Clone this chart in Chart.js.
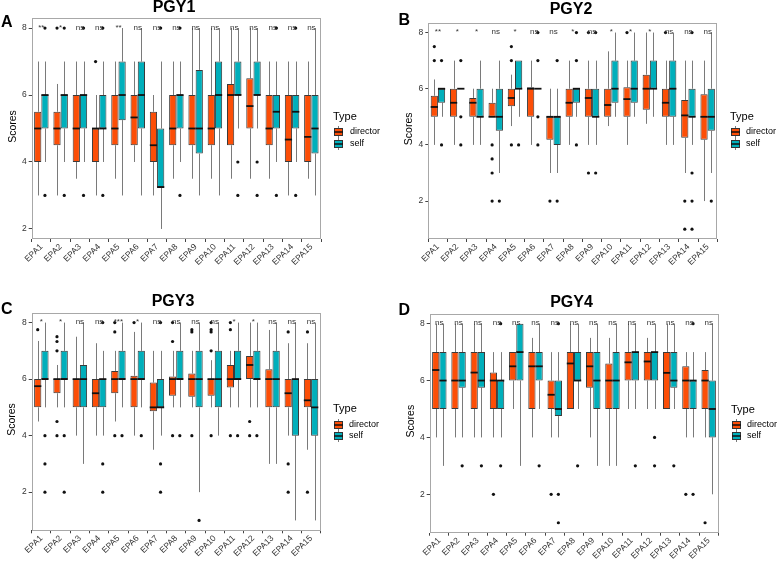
<!DOCTYPE html>
<html>
<head>
<meta charset="utf-8">
<script src="https://cdn.jsdelivr.net/npm/chart.js@4.4.0/dist/chart.umd.min.js"></script>
<style>
  html, body { margin: 0; padding: 0; background: #fff; }
  #wrap { position: relative; width: 778px; height: 564px; }
  .panel { position: absolute; width: 389px; height: 282px; }
</style>
</head>
<body>
<div id="wrap">
  <div class="panel" style="left:0;top:0"><canvas id="pgy1" width="389" height="282"></canvas></div>
  <div class="panel" style="left:389px;top:0"><canvas id="pgy2" width="389" height="282"></canvas></div>
  <div class="panel" style="left:0;top:282px"><canvas id="pgy3" width="389" height="282"></canvas></div>
  <div class="panel" style="left:389px;top:282px"><canvas id="pgy4" width="389" height="282"></canvas></div>
</div>
<script>
const epaLabels = ['EPA1','EPA2','EPA3','EPA4','EPA5','EPA6','EPA7','EPA8','EPA9','EPA10','EPA11','EPA12','EPA13','EPA14','EPA15'];
const typeNames = ['director', 'self'];
const yTicks = [2, 4, 6, 8];

// each box: [lower whisker, q1, median, q3, upper whisker]
const pgy1Director = [[3,4,5,5.5,7],[3,4.5,5,5.5,6.33],[3.5,4,5,6,7],[3,4,5,5,6],[3.5,4.5,5,6,7],[4,4.5,5.33,6,7],[3,4,4.5,5.5,6],[3.5,4.5,5,6,7],[3.5,4.5,5,6,8],[3.5,4.5,5,6,8],[3.5,4.5,6,6.33,8],[3.5,5,5.67,6.5,8],[3.5,4.5,5,6,7],[3,4,4.67,6,7],[3.5,4,4.75,6,7]];
const pgy1DirectorOut = [[],[8],[],[7],[],[],[],[],[],[],[],[],[],[],[]];
const pgy1Self = [[4,5,6,6,7],[4,5,6,6,7],[4,5,6,6,7],[4,5,5,6,7],[3,5.25,6,7,8],[3,5,6,7,8],[2,3.25,3.25,5,7],[4,5,6,6,7],[3,4.25,5,6.75,8],[3,5,6,7,8],[5,6,6,7,8],[5,6,6,7,8],[4,5,5.5,6,7],[4,5,5.5,6,7],[3,4.25,5,6,8]];
const pgy1SelfOut = [[8,3],[8,3],[8,3],[8,3],[],[],[8],[8,3],[],[],[4,3],[4,3],[8,3],[8,3],[]];
const pgy1Sig = ['**','*','ns','ns','**','ns','ns','ns','ns','ns','ns','ns','ns','ns','ns'];

const pgy2Director = [[4,5,5.35,5.75,6.33],[4,5,5.5,6,7],[4,5,5.5,5.67,6],[5,5,5,5.5,6],[4.67,5.38,5.67,6,6.5],[4,5,6,6.05,7],[3,4.18,5,5,6],[4,5,5.5,6,7],[4,5,5.67,6,7],[4.67,5,5.42,6,7.33],[4,5,5.63,6.05,7],[4.75,5.25,6,6.5,8],[4,5,5.5,6,7],[3,4.25,5.05,5.6,7],[2,4.18,5,5.8,7]];
const pgy2DirectorOut = [[7.5,7],[],[],[4,3.5,3,2],[7.5,7,4],[],[2],[],[8,3],[],[8],[],[8],[2,1],[]];
const pgy2Self = [[5,5.5,6,6,6],[6,6,6,6,6],[4,5,5,6,7],[3,4.5,5,6,7],[5,6,6,7,7],[6,6,6,6,6],[3,4,5,5,6],[5,5.5,6,6,6],[4,5,5,6,7],[5,5.5,6,7,8],[5,5.5,6,7,8],[5,6,6,7,8],[4,5,6,7,8],[4,5,5,6,7],[3,4.5,5,6,8]];
const pgy2SelfOut = [[7,4],[7,5,4],[],[2],[4],[8,7,5,4],[7,2],[8,7,4],[8,3],[],[],[],[],[8,3,2,1],[2]];
const pgy2Sig = ['**','*','*','ns','*','ns','ns','*','ns','*','*','*','ns','ns','ns'];

const pgy3Director = [[4.5,5,5.75,6,7.35],[5,5.5,6,6,6.5],[4,5,6,6,7.5],[4,5,5.5,6,7.27],[4.5,5.5,6,6.29,7],[4,5,6,6.12,7.67],[3.5,4.86,5,5.88,7],[5,5.41,6,6.09,7],[5,5.38,6,6.2,7],[5,5.41,6,6,6.67],[5,5.7,6,6.5,7],[5,6,6.5,6.82,8],[3,5,6,6.35,7.74],[4,5,5.5,6,7.27],[3.5,5,5.25,6,7.27]];
const pgy3DirectorOut = [[7.75],[7.5,7.33,7,4.5,4],[],[],[8,7.67,4],[8],[],[8,7.33,4],[7.75,7.67,4],[8,7.75,7.67,7,4],[8,7.75,4],[4.5,4],[],[7.67,3,2],[7.67,2]];
const pgy3Self = [[5,6,6,7,8],[5,6,6,7,8],[3,5,6,6.5,8],[4,5,6,6,7],[5,6,6,7,8],[5,6,6,7,8],[4,5,5,6,7],[5,6,6,7,8],[2,5,6,7,8],[4,5,6,7,8],[5,6,6,7,8],[5,6,6,7,8],[3,5,6,7,8],[1,4,6,6,8],[1,4,5,6,8]];
const pgy3SelfOut = [[4,3,2],[4,2],[],[8,3,2],[4],[4],[8,3,2],[4],[1],[],[4],[4],[],[],[]];
const pgy3Sig = ['*','*','ns','ns','***','*','ns','ns','ns','ns','*','*','ns','ns','ns'];

const pgy4Director = [[4,5,6.37,7,8],[4,5,6,7,8],[4,5,6.28,7,8],[4,5,6,6.28,7],[5,6,6.5,7,7],[4,5,6.5,7,7.5],[4,5,5.5,6,7],[5,5,6.6,7,8],[4,5.75,6.5,7,7.5],[3,5,6,6.6,7.5],[5,6,6.64,7,8],[5,6,6.67,7,7.5],[5,5,6.27,7,8],[4,5,6,6.5,7],[4,5,6,6.37,7]];
const pgy4DirectorOut = [[],[],[],[2],[],[],[2],[],[],[],[],[],[],[2],[1]];
const pgy4Self = [[3,5,6,7,8],[4,5.75,6,7,8],[4,5.75,6,7,8],[4,5,6,6,7],[3,6,7,8,8],[5,6,6.5,7,8],[4,4.75,5,6,7],[5,6,6,7,8],[3,5,6,7,8],[3,5,6,7,8],[5,6,7,7,8],[5,6,7,7,8],[5,5.75,6,7,8],[4,5,6,6,7],[2,4,5,6,8]];
const pgy4SelfOut = [[],[3],[3],[8,3],[],[3],[8,2,1],[3],[],[],[3],[4,3],[3],[8,2],[]];
const pgy4Sig = ['ns','ns','ns','ns','ns','ns','ns','ns','ns','ns','ns','ns','ns','ns','ns'];

const COLORS = { director: '#FC4E07', self: '#00AFBB' };
const FONT = '"Liberation Sans", Arial, sans-serif';

// 箱线图的须、中位数、离群点和标注
const boxPlugin = {
  id: 'boxExtras',
  beforeDatasetsDraw(chart) {
    const ctx = chart.ctx, y = chart.scales.y;
    ctx.save();
    ctx.strokeStyle = '#7a7a7a';
    ctx.lineWidth = 1;
    chart.data.datasets.forEach((ds, di) => {
      chart.getDatasetMeta(di).data.forEach((bar, i) => {
        const s = ds.stats[i];
        const x = Math.round(bar.x) + 0.5;
        ctx.beginPath();
        ctx.moveTo(x, y.getPixelForValue(s[4]));
        ctx.lineTo(x, y.getPixelForValue(s[3]));
        ctx.moveTo(x, y.getPixelForValue(s[1]));
        ctx.lineTo(x, y.getPixelForValue(s[0]));
        ctx.stroke();
      });
    });
    ctx.restore();
  },
  afterDatasetsDraw(chart, args, opts) {
    const ctx = chart.ctx, y = chart.scales.y, xs = chart.scales.x;
    ctx.save();
    chart.data.datasets.forEach((ds, di) => {
      chart.getDatasetMeta(di).data.forEach((bar, i) => {
        const s = ds.stats[i];
        const half = bar.width / 2;
        const my = y.getPixelForValue(s[2]);
        ctx.strokeStyle = '#111';
        ctx.lineWidth = 1.8;
        ctx.beginPath();
        ctx.moveTo(bar.x - half, my);
        ctx.lineTo(bar.x + half, my);
        ctx.stroke();
        ctx.fillStyle = '#111';
        ds.outliers[i].forEach(v => {
          ctx.beginPath();
          ctx.arc(bar.x, y.getPixelForValue(v), 1.6, 0, Math.PI * 2);
          ctx.fill();
        });
      });
    });
    // significance labels
    ctx.fillStyle = '#333';
    ctx.font = '8px ' + FONT;
    ctx.textAlign = 'center';
    ctx.textBaseline = 'alphabetic';
    opts.sig.forEach((t, i) => {
      ctx.fillText(t, xs.getPixelForValue(i), y.getPixelForValue(8) + 1.5);
    });
    ctx.restore();
  },
  afterDraw(chart, args, opts) {
    const ctx = chart.ctx, a = chart.chartArea;
    ctx.save();
    ctx.strokeStyle = '#a8a8a8';
    ctx.lineWidth = 1;
    ctx.strokeRect(Math.round(a.left) + 0.5, Math.round(a.top) + 0.5, Math.round(a.right - a.left) - 1, Math.round(a.bottom - a.top) - 1);

    ctx.fillStyle = '#000';
    ctx.textBaseline = 'middle';
    ctx.textAlign = 'center';
    ctx.font = 'bold 16px ' + FONT;
    ctx.fillText(opts.title, opts.titleX, opts.titleY);
    ctx.textAlign = 'left';
    ctx.fillText(opts.tag, opts.tagX, opts.tagY);

    // y axis title
    ctx.save();
    ctx.font = '10.5px ' + FONT;
    ctx.textAlign = 'center';
    ctx.translate(opts.axisX, (a.top + a.bottom) / 2 - 2);
    ctx.rotate(-Math.PI / 2);
    ctx.fillText('Scores', 0, 0);
    ctx.restore();

    // legend
    const lg = opts.legend;
    ctx.font = '11px ' + FONT;
    ctx.fillText('Type', lg.x, lg.titleY);
    ctx.font = '9px ' + FONT;
    typeNames.forEach((name, k) => {
      const cy = lg.itemY[k];
      const kx = lg.x + 1;
      ctx.strokeStyle = '#7a7a7a';
      ctx.lineWidth = 1;
      ctx.beginPath();
      ctx.moveTo(kx + 4.5, cy - 6);
      ctx.lineTo(kx + 4.5, cy + 6);
      ctx.stroke();
      ctx.fillStyle = COLORS[name];
      ctx.fillRect(kx, cy - 4, 9, 8);
      ctx.strokeStyle = '#333';
      ctx.strokeRect(kx + 0.5, cy - 3.5, 8, 7);
      ctx.strokeStyle = '#111';
      ctx.lineWidth = 1.5;
      ctx.beginPath();
      ctx.moveTo(kx, cy);
      ctx.lineTo(kx + 9, cy);
      ctx.stroke();
      ctx.fillStyle = '#000';
      ctx.fillText(name, lg.textX, cy);
    });
    ctx.restore();
  }
};

const makePanel = (id, dir, dirOut, self, selfOut, sig, cfg) => {
  const H = 282, W = 389;
  new Chart(document.getElementById(id), {
    type: 'bar',
    data: {
      labels: epaLabels,
      datasets: [
        { label: 'director', data: dir.map(b => [b[1], b[3]]), stats: dir, outliers: dirOut,
          backgroundColor: COLORS.director, borderColor: '#3a3a3a', borderWidth: 1, borderSkipped: false },
        { label: 'self', data: self.map(b => [b[1], b[3]]), stats: self, outliers: selfOut,
          backgroundColor: COLORS.self, borderColor: '#3a3a3a', borderWidth: 1, borderSkipped: false }
      ]
    },
    options: {
      responsive: false,
      animation: false,
      events: [],
      categoryPercentage: 0.75,
      barPercentage: 1,
      layout: { padding: { top: cfg.area.top, right: W - cfg.area.right, left: 0, bottom: 0 } },
      scales: {
        x: {
          grid: { display: true, drawOnChartArea: false, drawTicks: true, tickLength: 3, color: '#444' },
          border: { display: false },
          ticks: { autoSkip: false, maxRotation: 45, minRotation: 45, padding: 0,
                   color: '#333', font: { family: FONT, size: 8.5 } },
          afterFit: s => { s.height = H - cfg.area.bottom; }
        },
        y: {
          min: cfg.yMin, max: cfg.yMax,
          grid: { display: true, drawOnChartArea: false, drawTicks: true, tickLength: 3, color: '#444' },
          border: { display: false },
          ticks: { padding: 2, color: '#333', font: { family: FONT, size: 8.5 } },
          afterBuildTicks: s => { s.ticks = yTicks.map(v => ({ value: v })); },
          afterFit: s => { s.width = cfg.area.left; }
        }
      },
      plugins: {
        legend: { display: false },
        tooltip: { enabled: false },
        boxExtras: Object.assign({ sig: sig }, cfg.deco)
      }
    },
    plugins: [boxPlugin]
  });
};

makePanel('pgy1', pgy1Director, pgy1DirectorOut, pgy1Self, pgy1SelfOut, pgy1Sig, {
  area: { left: 31.7, top: 18, right: 321, bottom: 239 }, yMin: 1.7, yMax: 8.3,
  deco: { title: 'PGY1', titleX: 174, titleY: 8, tag: 'A', tagX: 1, tagY: 23, axisX: 13,
          legend: { x: 333, titleY: 117, itemY: [132, 144], textX: 350 } }
});
makePanel('pgy2', pgy2Director, pgy2DirectorOut, pgy2Self, pgy2SelfOut, pgy2Sig, {
  area: { left: 39.3, top: 22.7, right: 328.3, bottom: 239 }, yMin: 0.65, yMax: 8.35,
  deco: { title: 'PGY2', titleX: 182, titleY: 9.5, tag: 'B', tagX: 9.5, tagY: 21, axisX: 20,
          legend: { x: 341, titleY: 117, itemY: [132, 144], textX: 357 } }
});
makePanel('pgy3', pgy3Director, pgy3DirectorOut, pgy3Self, pgy3SelfOut, pgy3Sig, {
  area: { left: 31.7, top: 30.7, right: 320.7, bottom: 248.3 }, yMin: 0.65, yMax: 8.35,
  deco: { title: 'PGY3', titleX: 173, titleY: 19.5, tag: 'C', tagX: 1, tagY: 27.5, axisX: 12.5,
          legend: { x: 333, titleY: 127, itemY: [143, 154], textX: 349 } }
});
makePanel('pgy4', pgy4Director, pgy4DirectorOut, pgy4Self, pgy4SelfOut, pgy4Sig, {
  area: { left: 40.7, top: 31.7, right: 329.3, bottom: 250.7 }, yMin: 0.65, yMax: 8.35,
  deco: { title: 'PGY4', titleX: 182.5, titleY: 20.5, tag: 'D', tagX: 9.5, tagY: 29, axisX: 22,
          legend: { x: 342, titleY: 128, itemY: [143, 154], textX: 358 } }
});
</script>
</body>
</html>
